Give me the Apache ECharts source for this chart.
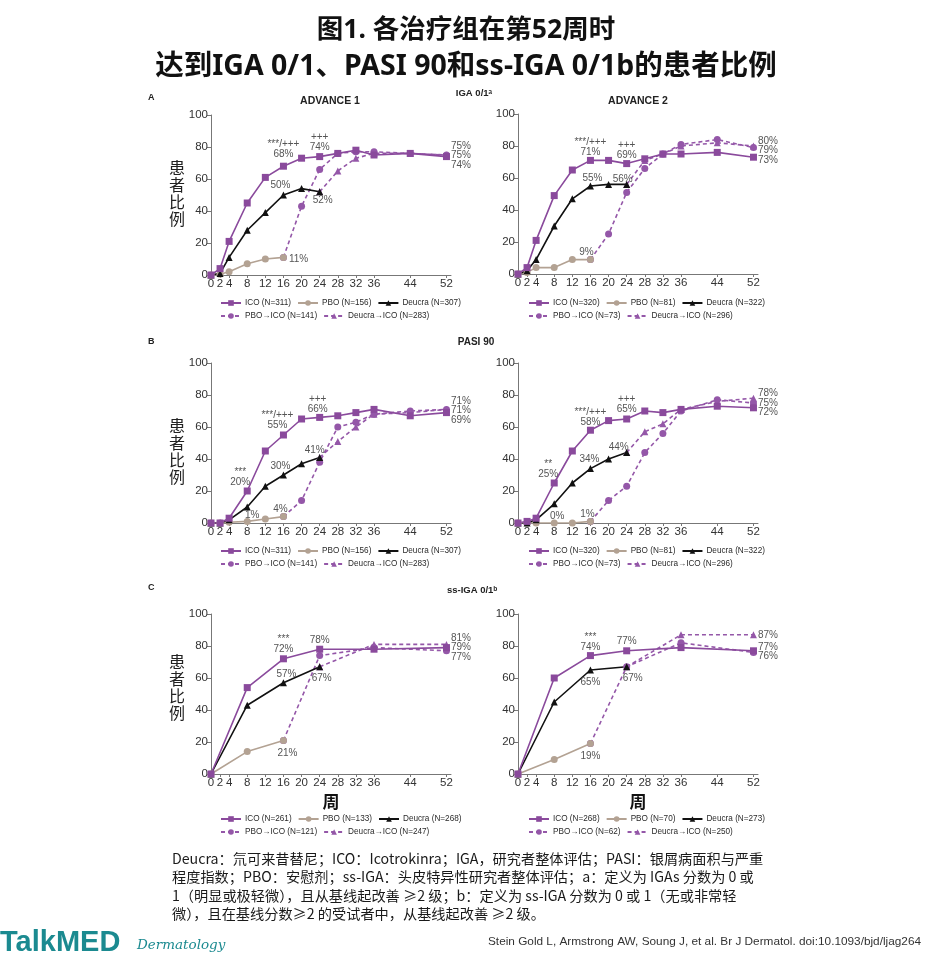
<!DOCTYPE html>
<html>
<head>
<meta charset="utf-8">
<script src="https://cdn.jsdelivr.net/npm/echarts@6/dist/echarts.min.js"></script>
<style>
  html, body { margin: 0; padding: 0; background: #fff; }
  #chart { width: 933px; height: 958px; }
</style>
</head>
<body>
<div id="chart"></div>
<script>
// 周数（x 轴）
const weeks = [0, 2, 4, 8, 12, 16, 20, 24, 28, 32, 36, 44, 52];
const weeksC = [0, 8, 16, 24, 36, 52];
const weekTicks = [0, 2, 4, 8, 12, 16, 20, 24, 28, 32, 36, 44, 52];

// A: IGA 0/1 - ADVANCE 1
const nA1 = [311, 156, 307, 141, 283];
const icoA1 = [0, 4, 21, 45, 61, 68, 73, 74, 76, 78, 75, 76, 74];
const pboA1 = [0, 0.5, 2, 7, 10, 11];
const deuA1 = [0, 1, 11, 28, 39, 50, 54, 52];
const pboIcoA1 = [11, 43, 66, 76, 77, 77, 76, 75];
const deuIcoA1 = [52, 65, 73, 76, 76, 75];
// A: IGA 0/1 - ADVANCE 2
const nA2 = [320, 81, 322, 73, 296];
const icoA2 = [0, 4, 21, 49, 65, 71, 71, 69, 72, 75, 75, 76, 73];
const pboA2 = [0, 1, 4, 4, 9, 9];
const deuA2 = [0, 2, 9, 30, 47, 55, 56, 56];
const pboIcoA2 = [9, 25, 51, 66, 75, 81, 84, 79];
const deuIcoA2 = [56, 71, 75, 80, 82, 80];

// B: PASI 90
const icoB1 = [0, 0, 3, 20, 45, 55, 65, 66, 67, 69, 71, 67, 69];
const pboB1 = [0, 0, 0.5, 1, 2.5, 4];
const deuB1 = [0, 0, 2, 10, 23, 30, 37, 41];
const pboIcoB1 = [4, 14, 38, 60, 63, 68, 70, 71];
const deuIcoB1 = [41, 51, 60, 68, 69, 71];
const icoB2 = [0, 1, 3, 25, 45, 58, 64, 65, 70, 69, 71, 73, 72];
const pboB2 = [0, 0, 0, 0, 0, 1];
const deuB2 = [0, 0, 2, 12, 25, 34, 40, 44];
const pboIcoB2 = [1, 14, 23, 44, 56, 70, 77, 75];
const deuIcoB2 = [44, 57, 62, 71, 76, 78];

// C: ss-IGA 0/1
const nC1 = [261, 133, 268, 121, 247];
const icoC1 = [0, 54, 72, 78, 78, 79];
const pboC1 = [0, 14, 21];
const deuC1 = [0, 43, 57, 67];
const pboIcoC1 = [21, 74, 79, 77];
const deuIcoC1 = [67, 81, 81];
const nC2 = [268, 70, 273, 62, 250];
const icoC2 = [0, 60, 74, 77, 79, 77];
const pboC2 = [0, 9, 19];
const deuC2 = [0, 45, 65, 67];
const pboIcoC2 = [19, 67, 82, 76];
const deuIcoC2 = [67, 87, 87];

// 点上的标注 [系列, 周, 文本]
const notesA1 = [['ico', 16, '***/+++\n68%'], ['ico', 24, '+++\n74%'], ['deu', 16, '50%'], ['deu', 24, '52%'], ['pbo', 16, '11%']];
const notesA2 = [['ico', 16, '***/+++\n71%'], ['ico', 24, '+++\n69%'], ['deu', 16, '55%'], ['deu', 24, '56%'], ['pbo', 16, '9%']];
const notesB1 = [['ico', 8, '***\n20%'], ['ico', 16, '***/+++\n55%'], ['ico', 24, '+++\n66%'], ['deu', 16, '30%'], ['deu', 24, '41%'], ['pbo', 8, '1%'], ['pbo', 16, '4%']];
const notesB2 = [['ico', 8, '**\n25%'], ['ico', 16, '***/+++\n58%'], ['ico', 24, '+++\n65%'], ['deu', 16, '34%'], ['deu', 24, '44%'], ['pbo', 8, '0%'], ['pbo', 16, '1%']];
const notesC1 = [['ico', 16, '***\n72%'], ['ico', 24, '78%'], ['deu', 16, '57%'], ['deu', 24, '67%'], ['pbo', 16, '21%']];
const notesC2 = [['ico', 16, '***\n74%'], ['ico', 24, '77%'], ['deu', 16, '65%'], ['deu', 24, '67%'], ['pbo', 16, '19%']];
// 第52周右侧的数值
const endsA1 = [[75, 75, 74]];
const endsA2 = [[80, 79, 73]];
const endsB1 = [[71, 71, 69]];
const endsB2 = [[78, 75, 72]];
const endsC1 = [[81, 79, 77]];
const endsC2 = [[87], [77, 76]];

// 标注摆放: [位置, dx, dy]
const placeA1 = [['top', 0, -1], ['top', 0, 1], ['top', -3, 1], ['bottom', 3, -2], ['right', 0, 2]];
const placeA2 = [['top', 0, 2], ['top', 0, 2], ['top', 2, 3], ['top', -4, 5], ['top', -4, 3]];
const placeB1 = [['top', -7, 2], ['top', -6, 1], ['top', -2, 2], ['top', -3, 2], ['top', -5, 3], ['top', 5, 4], ['top', -3, 3]];
const placeB2 = [['top', -6, 2], ['top', 0, 3], ['top', 0, 1], ['top', -1, 1], ['top', -8, 5], ['top', 3, 4], ['top', -3, 3]];
const placeC1 = [['top', 0, 1], ['top', 0, 2], ['top', 3, 2], ['bottom', 2, 1], ['bottom', 4, 2]];
const placeC2 = [['top', 0, 2], ['top', 0, 1], ['bottom', 0, 2], ['bottom', 6, 1], ['bottom', 0, 2]];

const FONT = "'Liberation Sans',Arial,sans-serif";
const CJK = "'Noto Sans CJK SC','Noto Sans',sans-serif";
const TITLE_FONT = "'Noto Sans','Noto Sans CJK SC',sans-serif";
const C_ICO = '#8A4A9C';
const C_PBO = '#B3A293';
const C_DEU = '#111111';
const C_SW = '#9457A8';

const panels = [
  { w: weeks, cut: [6, 8], n: nA1, ico: icoA1, pbo: pboA1, deu: deuA1, pboIco: pboIcoA1, deuIco: deuIcoA1, notes: notesA1, place: placeA1, ends: endsA1, left: 211, top: 115, lx: 220, ly: 299 },
  { w: weeks, cut: [6, 8], n: nA2, ico: icoA2, pbo: pboA2, deu: deuA2, pboIco: pboIcoA2, deuIco: deuIcoA2, notes: notesA2, place: placeA2, ends: endsA2, left: 518, top: 114, lx: 528, ly: 299 },
  { w: weeks, cut: [6, 8], n: nA1, ico: icoB1, pbo: pboB1, deu: deuB1, pboIco: pboIcoB1, deuIco: deuIcoB1, notes: notesB1, place: placeB1, ends: endsB1, left: 211, top: 363, lx: 220, ly: 547 },
  { w: weeks, cut: [6, 8], n: nA2, ico: icoB2, pbo: pboB2, deu: deuB2, pboIco: pboIcoB2, deuIco: deuIcoB2, notes: notesB2, place: placeB2, ends: endsB2, left: 518, top: 363, lx: 528, ly: 547 },
  { w: weeksC, cut: [3, 4], n: nC1, ico: icoC1, pbo: pboC1, deu: deuC1, pboIco: pboIcoC1, deuIco: deuIcoC1, notes: notesC1, place: placeC1, ends: endsC1, left: 211, top: 614, lx: 220, ly: 815, xname: true },
  { w: weeksC, cut: [3, 4], n: nC2, ico: icoC2, pbo: pboC2, deu: deuC2, pboIco: pboIcoC2, deuIco: deuIcoC2, notes: notesC2, place: placeC2, ends: endsC2, left: 518, top: 614, lx: 528, ly: 815, xname: true }
];

const grid = [], xAxis = [], yAxis = [], series = [], legend = [];

panels.forEach((p, gi) => {
  grid.push({ left: p.left, top: p.top, width: 240, height: 160 });
  xAxis.push({
    gridIndex: gi, type: 'value', min: 0, max: 53, interval: 2,
    name: p.xname ? '周' : '', nameLocation: 'middle', nameGap: 19,
    nameTextStyle: { fontFamily: CJK, fontSize: 17, fontWeight: 'bold', color: '#111' },
    axisLine: { lineStyle: { color: '#777', width: 1 } },
    axisTick: { show: true, customValues: weekTicks, length: 3, lineStyle: { color: '#777' } },
    axisLabel: { customValues: weekTicks, fontSize: 11.5, color: '#333', margin: 3, fontFamily: FONT },
    splitLine: { show: false }
  });
  yAxis.push({
    gridIndex: gi, type: 'value', min: 0, max: 100, interval: 20,
    axisLine: { show: true, lineStyle: { color: '#777', width: 1 } },
    axisTick: { show: true, length: 4, lineStyle: { color: '#777' } },
    axisLabel: { fontSize: 11.5, color: '#333', margin: 3, fontFamily: FONT },
    splitLine: { show: false }
  });

  const defs = [
    { key: 'ico', name: `ICO (N=${p.n[0]})`, wk: p.w, vals: p.ico, color: C_ICO, symbol: 'rect', size: 7, dash: 'solid' },
    { key: 'pbo', name: `PBO (N=${p.n[1]})`, wk: p.w.slice(0, p.cut[0]), vals: p.pbo, color: C_PBO, symbol: 'circle', size: 7, dash: 'solid' },
    { key: 'deu', name: `Deucra (N=${p.n[2]})`, wk: p.w.slice(0, p.cut[1]), vals: p.deu, color: C_DEU, symbol: 'triangle', size: 7, dash: 'solid' },
    { key: 'pboIco', name: `PBO→ICO (N=${p.n[3]})`, wk: p.w.slice(p.cut[0] - 1), vals: p.pboIco, color: C_SW, symbol: 'circle', size: 7, dash: [4, 3] },
    { key: 'deuIco', name: `Deucra→ICO (N=${p.n[4]})`, wk: p.w.slice(p.cut[1] - 1), vals: p.deuIco, color: C_SW, symbol: 'triangle', size: 7, dash: [4, 3] }
  ];

  // 虚线在下，实线在上
  [3, 4, 1, 2, 0].forEach(di => {
    const d = defs[di];
    const data = d.vals.map((v, i) => {
      const item = { value: [d.wk[i], v] };
      p.notes.forEach((nt, ni) => {
        if (nt[0] === d.key && nt[1] === d.wk[i]) {
          const pl = p.place[ni];
          item.label = {
            show: true, formatter: nt[2], position: pl[0], distance: 2,
            offset: [pl[1], pl[2]], fontSize: 10, lineHeight: 10, color: '#555',
            fontFamily: FONT, align: pl[0] === 'right' ? 'left' : 'center'
          };
        }
      });
      return item;
    });
    const s = {
      name: d.name, type: 'line', xAxisIndex: gi, yAxisIndex: gi, data,
      symbol: d.symbol, symbolSize: d.size, showAllSymbol: true,
      lineStyle: { color: d.color, width: 1.6, type: d.dash },
      itemStyle: { color: d.color },
      label: { show: false }, emphasis: { disabled: true }, animation: false
    };
    if (d.key === 'ico') {
      s.markPoint = {
        symbol: 'circle', symbolSize: 1, silent: true,
        itemStyle: { color: 'rgba(0,0,0,0)' },
        data: p.ends.map(g => ({
          coord: [52, g.reduce((a, b) => a + b, 0) / g.length],
          label: {
            show: true, position: 'right', distance: 4, formatter: g.map(v => v + '%').join('\n'),
            fontSize: 10, lineHeight: 9.5, color: '#555', fontFamily: FONT, align: 'left'
          }
        }))
      };
    }
    series.push(s);
  });

  const common = {
    orient: 'horizontal', left: p.lx, padding: 0, itemGap: 6, itemWidth: 20, itemHeight: 7,
    textStyle: { fontSize: 8.2, color: '#2a2a2a', fontFamily: FONT, padding: [0, 0, 0, -1] }, selectedMode: false
  };
  legend.push(Object.assign({ top: p.ly, data: defs.slice(0, 3).map(d => d.name) }, common));
  legend.push(Object.assign({ top: p.ly + 13, data: defs.slice(3).map(d => d.name) }, common));
});

function txt(x, y, text, style) {
  return { type: 'text', x, y, style: Object.assign({ text, fill: '#222', fontFamily: FONT }, style), silent: true };
}
const yName = '患\n者\n比\n例';
const graphics = [
  txt(466, 30, '图1. 各治疗组在第52周时', { fontSize: 26.5, fontWeight: 'bold', fontFamily: TITLE_FONT, fill: '#111', textAlign: 'center', textVerticalAlign: 'middle' }),
  txt(466, 67, '达到IGA 0/1、PASI 90和ss-IGA 0/1b的患者比例', { fontSize: 28.5, fontWeight: 'bold', fontFamily: TITLE_FONT, fill: '#111', textAlign: 'center', textVerticalAlign: 'middle' }),
  txt(148, 98, 'A', { fontSize: 9, fontWeight: 'bold', textVerticalAlign: 'middle' }),
  txt(330, 101, 'ADVANCE 1', { fontSize: 10.5, fontWeight: 'bold', textAlign: 'center', textVerticalAlign: 'middle' }),
  txt(474, 93, 'IGA 0/1ᵃ', { fontSize: 9.5, fontWeight: 'bold', textAlign: 'center', textVerticalAlign: 'middle' }),
  txt(638, 101, 'ADVANCE 2', { fontSize: 10.5, fontWeight: 'bold', textAlign: 'center', textVerticalAlign: 'middle' }),
  txt(148, 342, 'B', { fontSize: 9, fontWeight: 'bold', textVerticalAlign: 'middle' }),
  txt(476, 342, 'PASI 90', { fontSize: 10, fontWeight: 'bold', textAlign: 'center', textVerticalAlign: 'middle' }),
  txt(148, 588, 'C', { fontSize: 9, fontWeight: 'bold', textVerticalAlign: 'middle' }),
  txt(472, 590, 'ss-IGA 0/1ᵇ', { fontSize: 9.5, fontWeight: 'bold', textAlign: 'center', textVerticalAlign: 'middle' }),
  txt(177, 193, yName, { fontSize: 16, lineHeight: 17, fontFamily: CJK, textAlign: 'center', textVerticalAlign: 'middle', fill: '#222' }),
  txt(177, 451, yName, { fontSize: 16, lineHeight: 17, fontFamily: CJK, textAlign: 'center', textVerticalAlign: 'middle', fill: '#222' }),
  txt(177, 687, yName, { fontSize: 16, lineHeight: 17, fontFamily: CJK, textAlign: 'center', textVerticalAlign: 'middle', fill: '#222' }),
  txt(172, 849,
    'Deucra：氘可来昔替尼；ICO：Icotrokinra；IGA，研究者整体评估；PASI：银屑病面积与严重\n' +
    '程度指数；PBO：安慰剂；ss-IGA：头皮特异性研究者整体评估；a：定义为 IGAs 分数为 0 或\n' +
    '1（明显或极轻微），且从基线起改善 ≥2 级；b：定义为 ss-IGA 分数为 0 或 1（无或非常轻\n' +
    '微），且在基线分数≥2 的受试者中，从基线起改善 ≥2 级。',
    { fontSize: 14.2, lineHeight: 18.5, fontFamily: CJK, fill: '#1a1a1a' }),
  txt(0, 943, 'TalkMED', { fontSize: 29, fontWeight: 'bold', fill: '#1B8A90', textVerticalAlign: 'middle' }),
  txt(137, 945, 'Dermatology', { fontSize: 13.5, fontStyle: 'italic', fontFamily: "'DejaVu Serif',serif", fill: '#1B8A90', textVerticalAlign: 'middle' }),
  txt(921, 942, 'Stein Gold L, Armstrong AW, Soung J, et al. Br J Dermatol. doi:10.1093/bjd/ljag264',
    { fontSize: 11.8, fill: '#333', textAlign: 'right', textVerticalAlign: 'middle' })
];

const chart = echarts.init(document.getElementById('chart'));
chart.setOption({
  backgroundColor: '#fff',
  animation: false,
  textStyle: { fontFamily: FONT },
  grid, xAxis, yAxis, series, legend,
  graphic: graphics
});
</script>
</body>
</html>
